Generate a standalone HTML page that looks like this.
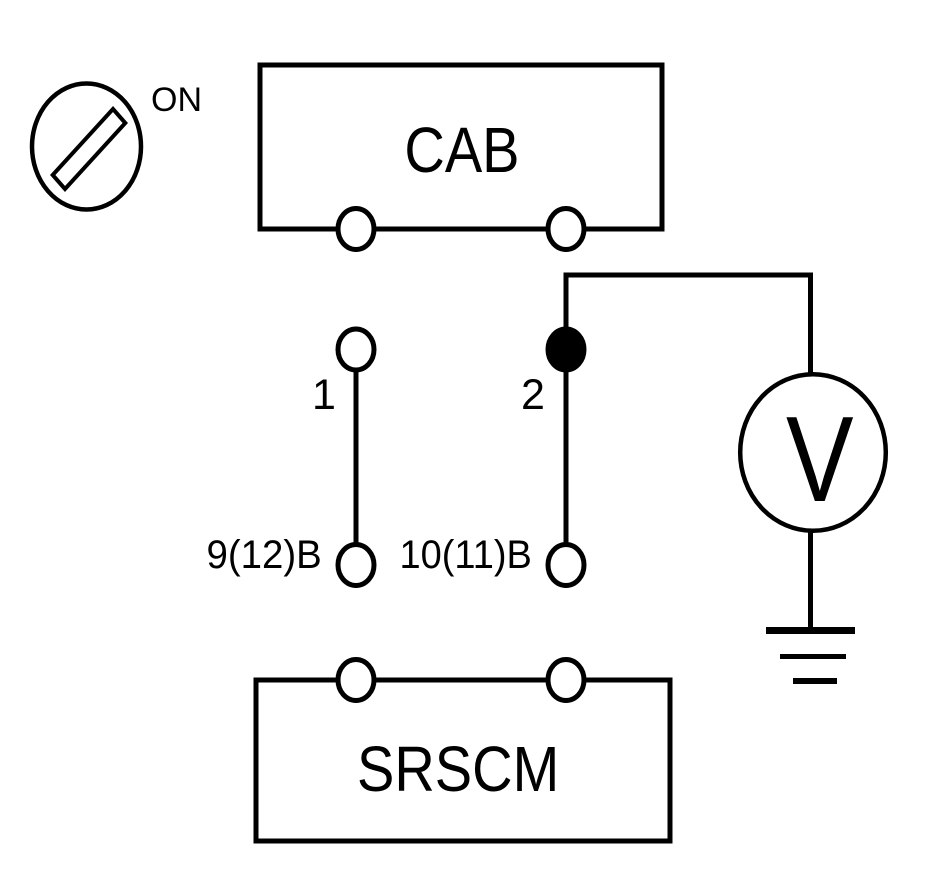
<!DOCTYPE html>
<html><head><meta charset="utf-8"><style>
html,body{margin:0;padding:0;background:#fff;width:928px;height:886px;overflow:hidden}
svg{display:block}
text{font-family:"Liberation Sans",Arial,sans-serif;fill:#000}
</style></head><body>
<svg width="928" height="886" viewBox="0 0 928 886" xmlns="http://www.w3.org/2000/svg">
<g fill="none" stroke="#000" stroke-width="5">
<ellipse cx="86.5" cy="146.5" rx="54.5" ry="63" stroke-width="4.5"/>
<polygon points="52.7,175 113,109 125.3,123 65,189" stroke-width="4"/>
<polyline points="340,229 260,229 260,65 662,65 662,229 585,229"/>
<line x1="374" y1="229" x2="548" y2="229"/>
<polyline points="340,680 256,680 256,841 670,841 670,680 585,680"/>
<line x1="374" y1="680" x2="548" y2="680"/>
<line x1="356" y1="368" x2="356" y2="546"/>
<line x1="566" y1="370" x2="566" y2="546"/>
<polyline points="566,330 566,275 810.5,275 810.5,374"/>
<line x1="810.5" y1="530" x2="810.5" y2="630"/>
<line x1="766" y1="630.5" x2="855" y2="630.5" stroke-width="7"/>
<line x1="780" y1="656.5" x2="846" y2="656.5"/>
<line x1="793" y1="681" x2="837" y2="681" stroke-width="6"/>
<ellipse cx="813" cy="452.5" rx="72.8" ry="78.3" stroke-width="4.5"/>
<ellipse cx="356" cy="229" rx="18" ry="20.5"/>
<ellipse cx="566" cy="229" rx="18" ry="20.5"/>
<ellipse cx="356" cy="349.5" rx="18" ry="20.5"/>
<ellipse cx="356" cy="565" rx="18" ry="20.5"/>
<ellipse cx="566" cy="565" rx="18" ry="20.5"/>
<ellipse cx="356" cy="680" rx="18" ry="20.5"/>
<ellipse cx="566" cy="680" rx="18" ry="20.5"/>
<ellipse cx="566" cy="349.5" rx="18" ry="20.5" fill="#000"/>
</g>
<text x="151" y="111" font-size="34">ON</text>
<text transform="translate(404.4,172) scale(.875,1)" font-size="64">CAB</text>
<text transform="translate(357,791) scale(.875,1)" font-size="64">SRSCM</text>
<text x="312" y="409" font-size="43">1</text>
<text x="521" y="409" font-size="43">2</text>
<text transform="translate(206.5,568) scale(.96,1)" font-size="40">9(12)B</text>
<text transform="translate(399.5,568) scale(.95,1)" font-size="40">10(11)B</text>
<text transform="translate(786,501) scale(.83,1)" font-size="122">V</text>
</svg>
</body></html>
